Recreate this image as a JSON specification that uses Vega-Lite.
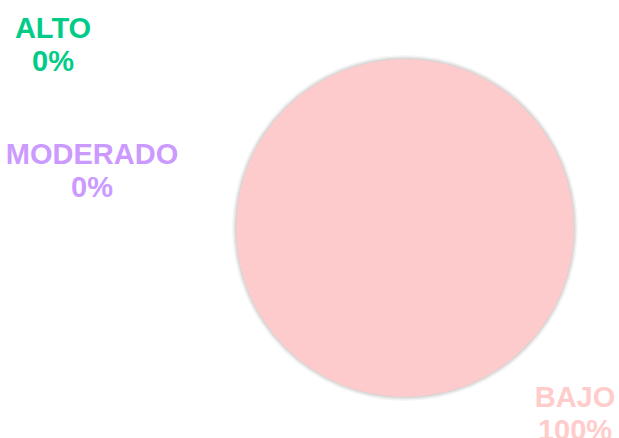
{
  "$schema": "https://vega.github.io/schema/vega-lite/v6.json",
  "width": 428,
  "height": 420,
  "autosize": {"type": "none"},
  "padding": {"left": 191, "top": 18, "right": 0, "bottom": 0},
  "background": "white",
  "view": {"stroke": null},
  "data": {
    "values": [
      {"nivel": "ALTO", "porcentaje": 0, "etiqueta": "ALTO\n0%"},
      {"nivel": "MODERADO", "porcentaje": 0, "etiqueta": "MODERADO\n0%"},
      {"nivel": "BAJO", "porcentaje": 100, "etiqueta": "BAJO\n100%"}
    ]
  },
  "encoding": {
    "theta": {"field": "porcentaje", "type": "quantitative", "stack": true}
  },
  "layer": [
    {
      "mark": {"type": "arc", "radius": 173, "fill": "#000000", "opacity": 0.04}
    },
    {
      "mark": {"type": "arc", "radius": 171.5, "fill": "#000000", "opacity": 0.06}
    },
    {
      "mark": {"type": "arc", "radius": 170, "fill": "#000000", "opacity": 0.08}
    },
    {
      "mark": {"type": "arc", "radius": 169},
      "encoding": {
        "color": {
          "field": "nivel",
          "type": "nominal",
          "scale": {"domain": ["ALTO", "MODERADO", "BAJO"], "range": ["#00CC88", "#CC99FF", "#FDCBCB"]},
          "legend": null
        }
      }
    },
    {
      "transform": [{"filter": "datum.nivel === 'ALTO'"}],
      "mark": {"type": "text", "radius": 184, "dx": -352, "dy": -15, "fill": "#00CC88", "font": "Liberation Sans", "fontWeight": "bold", "fontSize": 29, "lineBreak": "\n", "lineHeight": 32.5, "align": "center", "baseline": "middle"},
      "encoding": {"text": {"field": "etiqueta", "type": "nominal"}}
    },
    {
      "transform": [{"filter": "datum.nivel === 'MODERADO'"}],
      "mark": {"type": "text", "radius": 184, "dx": -313, "dy": 111, "fill": "#CC99FF", "font": "Liberation Sans", "fontWeight": "bold", "fontSize": 29, "lineBreak": "\n", "lineHeight": 32.5, "align": "center", "baseline": "middle"},
      "encoding": {"text": {"field": "etiqueta", "type": "nominal"}}
    },
    {
      "transform": [{"filter": "datum.nivel === 'BAJO'"}],
      "mark": {"type": "text", "radius": 184, "dx": 170, "dy": -14, "fill": "#FFCCCC", "font": "Liberation Sans", "fontWeight": "bold", "fontSize": 29, "lineBreak": "\n", "lineHeight": 32.5, "align": "center", "baseline": "middle"},
      "encoding": {"text": {"field": "etiqueta", "type": "nominal"}}
    }
  ]
}
